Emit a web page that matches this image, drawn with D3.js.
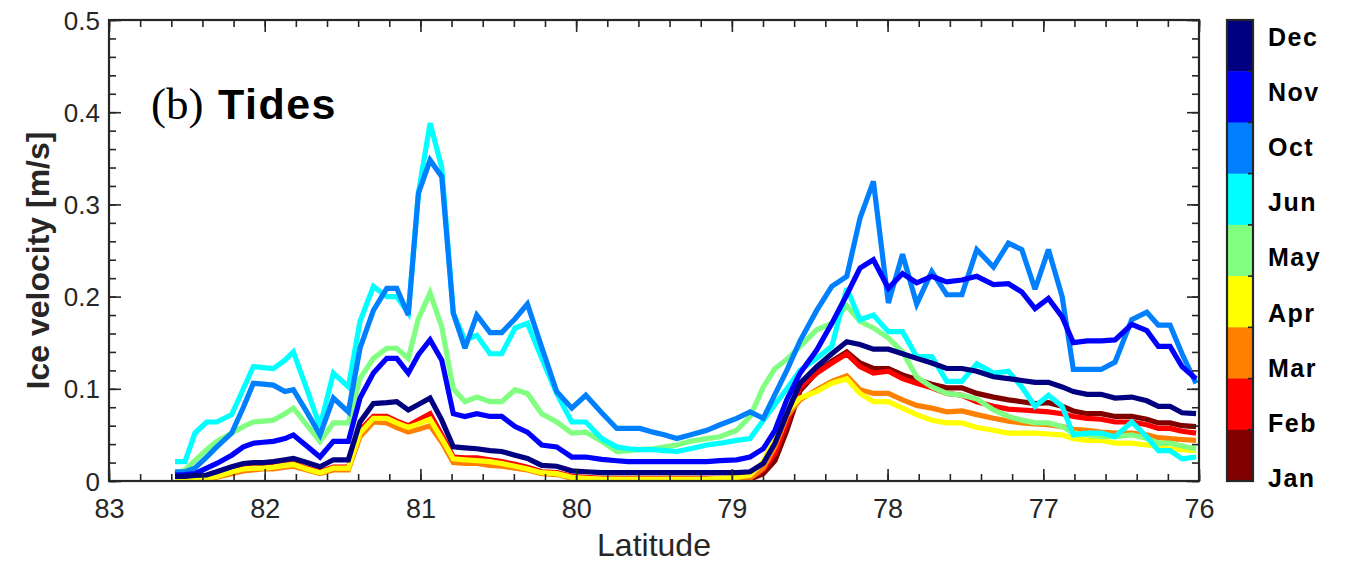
<!DOCTYPE html>
<html>
<head>
<meta charset="utf-8">
<script src="https://cdn.jsdelivr.net/npm/d3@7"></script>
<style>
  html, body { margin: 0; padding: 0; background: #fff; }
  svg { display: block; }
</style>
</head>
<body>
<svg id="chart" width="1352" height="565"></svg>
<script>
// ---------------- data ----------------
const lat = [82.576,82.512,82.448,82.373,82.308,82.212,82.137,82.073,82.009,81.945,
  81.870,81.816,81.730,81.645,81.559,81.463,81.388,81.302,81.216,81.152,
  81.078,81.013,80.938,80.863,80.789,80.714,80.638,80.553,80.478,80.392,
  80.313,80.221,80.125,80.028,79.938,79.836,79.739,79.665,79.590,79.506,
  79.429,79.354,79.268,79.161,79.076,78.969,78.883,78.798,78.723,78.647,
  78.562,78.455,78.358,78.262,78.177,78.091,77.995,77.904,77.813,77.716,
  77.620,77.523,77.427,77.320,77.224,77.138,77.053,76.967,76.879,76.807,
  76.719,76.629,76.539,76.432,76.335,76.261,76.186,76.109,76.019];

const janV = [.001,.001,.002,.003,.005,.010,.013,.014,.014,.015,
  .017,.018,.013,.009,.014,.014,.052,.067,.068,.063,
  .058,.063,.070,.048,.025,.024,.024,.022,.020,.017,
  .014,.009,.008,.004,.003,.002,.002,.002,.002,.002,
  .002,.002,.002,.002,.002,.002,.002,.008,.022,.055,
  .098,.118,.130,.140,.128,.122,.122,.115,.110,.105,
  .101,.101,.095,.091,.088,.086,.084,.085,.081,.076,
  .073,.073,.070,.070,.067,.063,.063,.060,.059];
const febV = [.002,.002,.003,.004,.006,.011,.014,.015,.015,.016,
  .018,.019,.014,.010,.015,.015,.055,.070,.070,.065,
  .060,.066,.073,.050,.026,.025,.025,.023,.021,.018,
  .015,.010,.009,.005,.004,.003,.003,.003,.003,.003,
  .003,.003,.003,.003,.003,.003,.003,.012,.030,.063,
  .102,.117,.128,.138,.124,.117,.119,.111,.106,.101,
  .095,.093,.086,.081,.078,.077,.076,.075,.073,.070,
  .068,.067,.064,.064,.061,.057,.057,.054,.052];
const marV = [.000,.000,.001,.002,.004,.008,.011,.012,.013,.013,
  .015,.016,.012,.008,.012,.012,.048,.064,.063,.058,
  .053,.056,.060,.042,.020,.019,.019,.017,.016,.014,
  .012,.008,.007,.003,.002,.001,.001,.001,.001,.001,
  .001,.001,.001,.001,.001,.002,.003,.014,.037,.070,
  .088,.099,.108,.114,.099,.095,.095,.088,.082,.079,
  .075,.076,.072,.068,.065,.063,.062,.061,.059,.056,
  .055,.053,.052,.052,.050,.047,.046,.045,.044];
const aprV = [.001,.001,.002,.003,.005,.010,.013,.014,.014,.015,
  .017,.018,.013,.009,.014,.014,.052,.068,.068,.063,
  .058,.062,.067,.046,.024,.023,.022,.021,.019,.016,
  .013,.009,.008,.004,.003,.002,.002,.002,.002,.002,
  .002,.002,.002,.002,.003,.004,.0065,.021,.048,.075,
  .090,.097,.106,.111,.095,.086,.086,.079,.072,.066,
  .063,.063,.058,.055,.052,.052,.052,.051,.050,.046,
  .044,.044,.041,.041,.039,.037,.035,.034,.033];
const mayV = [.008,.012,.022,.034,.043,.052,.059,.064,.065,.066,
  .073,.079,.061,.043,.063,.063,.111,.133,.144,.144,
  .133,.176,.204,.167,.100,.086,.091,.086,.086,.099,
  .095,.073,.064,.052,.053,.043,.032,.033,.034,.035,
  .037,.039,.043,.046,.048,.055,.070,.102,.122,.132,
  .146,.164,.171,.190,.173,.166,.155,.140,.113,.102,
  .095,.093,.089,.077,.070,.066,.063,.063,.059,.052,
  .050,.048,.048,.050,.046,.041,.041,.038,.035];
const junV = [.021,.021,.052,.064,.064,.072,.100,.124,.123,.122,
  .131,.140,.100,.059,.117,.102,.173,.211,.200,.200,
  .182,.312,.388,.340,.182,.153,.158,.138,.138,.166,
  .171,.133,.095,.064,.064,.046,.037,.035,.034,.034,
  .033,.032,.035,.039,.041,.044,.046,.066,.083,.100,
  .120,.133,.146,.209,.175,.180,.162,.162,.135,.135,
  .108,.108,.127,.117,.119,.102,.081,.093,.081,.050,
  .052,.052,.048,.064,.048,.033,.033,.024,.026];
const octV = [.010,.010,.014,.026,.037,.052,.080,.106,.105,.104,
  .097,.099,.075,.050,.090,.075,.144,.185,.209,.209,
  .180,.312,.348,.330,.182,.144,.180,.161,.161,.176,
  .192,.145,.097,.079,.093,.074,.057,.057,.057,.053,
  .050,.046,.050,.055,.061,.068,.075,.068,.094,.120,
  .152,.185,.211,.222,.285,.325,.193,.246,.192,.227,
  .202,.202,.251,.232,.258,.251,.208,.251,.200,.121,
  .121,.121,.129,.175,.183,.169,.169,.138,.106];
const novV = [.0065,.007,.008,.014,.019,.028,.037,.041,.042,.043,
  .046,.050,.038,.026,.043,.043,.090,.117,.133,.133,
  .117,.137,.153,.131,.073,.070,.073,.070,.070,.059,
  .053,.039,.037,.026,.026,.0235,.022,.021,.021,.021,
  .021,.021,.021,.021,.022,.023,.026,.035,.055,.088,
  .117,.142,.171,.202,.231,.240,.209,.225,.215,.222,
  .216,.218,.222,.213,.214,.205,.187,.198,.178,.150,
  .152,.152,.153,.170,.163,.146,.146,.124,.111];
const decV = [.005,.005,.006,.0065,.010,.0155,.019,.020,.020,.021,
  .023,.0245,.020,.0155,.023,.023,.064,.084,.085,.086,
  .077,.083,.090,.066,.037,.036,.035,.033,.032,.028,
  .0245,.017,.016,.011,.010,.009,.009,.009,.009,.009,
  .009,.009,.009,.009,.009,.009,.010,.019,.041,.073,
  .106,.124,.138,.151,.148,.143,.143,.138,.133,.128,
  .122,.122,.119,.113,.111,.109,.107,.107,.102,.097,
  .094,.094,.090,.091,.087,.081,.081,.074,.073];

const months = ["Jan","Feb","Mar","Apr","May","Jun","Oct","Nov","Dec"];
const monthColors = ["#800000","#ff0000","#ff8000","#ffff00","#80ff80","#00ffff","#0080ff","#0000ff","#000080"];
const seriesValues = [janV, febV, marV, aprV, mayV, junV, octV, novV, decV];

const xTicks = [83, 82, 81, 80, 79, 78, 77, 76];
const yTicks = [0, 0.1, 0.2, 0.3, 0.4, 0.5];

// ---------------- layout ----------------
const svg = d3.select("#chart");
const L = 109, R = 1199, T = 20, B = 481;
const axisColor = "#262626";
const sans = "'Liberation Sans', Arial, Helvetica, sans-serif";

const x = d3.scaleLinear().domain([83, 76]).range([L, R]);
const y = d3.scaleLinear().domain([0, 0.5]).range([B, T]);

svg.append("defs").append("clipPath").attr("id", "plotclip")
  .append("rect").attr("x", L).attr("y", T).attr("width", R - L).attr("height", B - T);

// lines (drawn Jan first, Dec last on top)
const line = d3.line().x((d, i) => x(lat[i])).y(d => y(d));
const gLines = svg.append("g").attr("clip-path", "url(#plotclip)");
seriesValues.forEach((vals, k) => {
  gLines.append("path")
    .datum(vals)
    .attr("d", line)
    .attr("fill", "none")
    .attr("stroke", monthColors[k])
    .attr("stroke-width", 5.2)
    .attr("stroke-linejoin", "miter")
    .attr("stroke-miterlimit", 3)
    .attr("stroke-linecap", "butt");
});

// axes (ticks inward on all four sides)
function styleAxis(g) {
  g.select(".domain").remove();
  g.selectAll(".tick line").attr("stroke", axisColor).attr("stroke-width", 1.6);
  g.selectAll("text").attr("fill", axisColor).style("font-family", sans).style("font-size", "26px");
}
const xMinor = d3.range(83, 75.99, -0.2).map(v => +v.toFixed(1));
const yMinor = d3.range(0, 0.5001, 0.02).map(v => +v.toFixed(2));

svg.append("g").attr("transform", `translate(0,${B})`)
  .call(d3.axisBottom(x).tickValues(xMinor).tickSizeInner(-7).tickSizeOuter(0).tickFormat(""))
  .call(styleAxis);
const gxb = svg.append("g").attr("transform", `translate(0,${B})`)
  .call(d3.axisBottom(x).tickValues(xTicks).tickSizeInner(-12).tickSizeOuter(0).tickFormat(d3.format("d")))
  .call(styleAxis);
gxb.selectAll("text").attr("y", 37).attr("dy", 0).style("font-size", "27px");

svg.append("g").attr("transform", `translate(0,${T})`)
  .call(d3.axisTop(x).tickValues(xMinor).tickSizeInner(-7).tickSizeOuter(0).tickFormat(""))
  .call(styleAxis);
svg.append("g").attr("transform", `translate(0,${T})`)
  .call(d3.axisTop(x).tickValues(xTicks).tickSizeInner(-12).tickSizeOuter(0).tickFormat(""))
  .call(styleAxis);

svg.append("g").attr("transform", `translate(${L},0)`)
  .call(d3.axisLeft(y).tickValues(yMinor).tickSizeInner(-7).tickSizeOuter(0).tickFormat(""))
  .call(styleAxis);
const gyl = svg.append("g").attr("transform", `translate(${L},0)`)
  .call(d3.axisLeft(y).tickValues(yTicks).tickSizeInner(-12).tickSizeOuter(0).tickFormat(d => d === 0 ? "0" : d3.format(".1f")(d)))
  .call(styleAxis);
gyl.selectAll("text").attr("x", -9).attr("dy", "0.35em");

svg.append("g").attr("transform", `translate(${R},0)`)
  .call(d3.axisRight(y).tickValues(yMinor).tickSizeInner(-7).tickSizeOuter(0).tickFormat(""))
  .call(styleAxis);
svg.append("g").attr("transform", `translate(${R},0)`)
  .call(d3.axisRight(y).tickValues(yTicks).tickSizeInner(-12).tickSizeOuter(0).tickFormat(""))
  .call(styleAxis);

svg.append("rect").attr("x", L).attr("y", T).attr("width", R - L).attr("height", B - T)
  .attr("fill", "none").attr("stroke", axisColor).attr("stroke-width", 2.2);

// axis labels
svg.append("text").attr("x", (L + R) / 2).attr("y", 556)
  .attr("text-anchor", "middle").attr("fill", axisColor)
  .style("font-family", sans).style("font-size", "32px")
  .text("Latitude");
svg.append("text")
  .attr("transform", `translate(49,${(T + B) / 2 + 10}) rotate(-90)`)
  .attr("text-anchor", "middle").attr("fill", axisColor)
  .style("font-family", sans).style("font-size", "32px").style("font-weight", "bold")
  .text("Ice velocity [m/s]");

// panel title
svg.append("text").attr("x", 151).attr("y", 119)
  .style("font-family", "'Liberation Serif', 'Times New Roman', serif")
  .style("font-size", "45px").attr("fill", "#000").text("(b)");
svg.append("text").attr("x", 218).attr("y", 119)
  .style("font-family", sans).style("font-weight", "bold")
  .style("font-size", "43px").style("letter-spacing", "1.5px").attr("fill", "#000").text("Tides");

// colorbar
const cbX = 1227, cbW = 26;
const cbOrder = months.slice().reverse();
const cbBand = d3.scaleBand().domain(cbOrder).range([T, B]).paddingInner(0).paddingOuter(0);
const cbLabel = d3.scalePoint().domain(cbOrder).range([36.7, 478]);
const gcb = svg.append("g");
gcb.selectAll("rect.seg").data(cbOrder).join("rect")
  .attr("class", "seg")
  .attr("x", cbX).attr("y", d => cbBand(d)).attr("width", cbW).attr("height", cbBand.bandwidth() + 0.5)
  .attr("fill", d => monthColors[months.indexOf(d)]);
gcb.append("rect").attr("x", cbX).attr("y", T).attr("width", cbW).attr("height", B - T)
  .attr("fill", "none").attr("stroke", axisColor).attr("stroke-width", 2.2);
gcb.selectAll("line.cbt").data(cbOrder.slice(1)).join("line")
  .attr("class", "cbt")
  .attr("x1", cbX + cbW - 5).attr("x2", cbX + cbW)
  .attr("y1", d => cbBand(d)).attr("y2", d => cbBand(d))
  .attr("stroke", axisColor).attr("stroke-width", 1.6);
gcb.selectAll("text.cbl").data(cbOrder).join("text")
  .attr("class", "cbl")
  .attr("x", 1268).attr("y", d => cbLabel(d)).attr("dy", "0.36em")
  .attr("fill", "#000")
  .style("font-family", sans).style("font-weight", "bold").style("font-size", "25px")
  .style("letter-spacing", "1.5px")
  .text(d => d);
</script>
</body>
</html>
